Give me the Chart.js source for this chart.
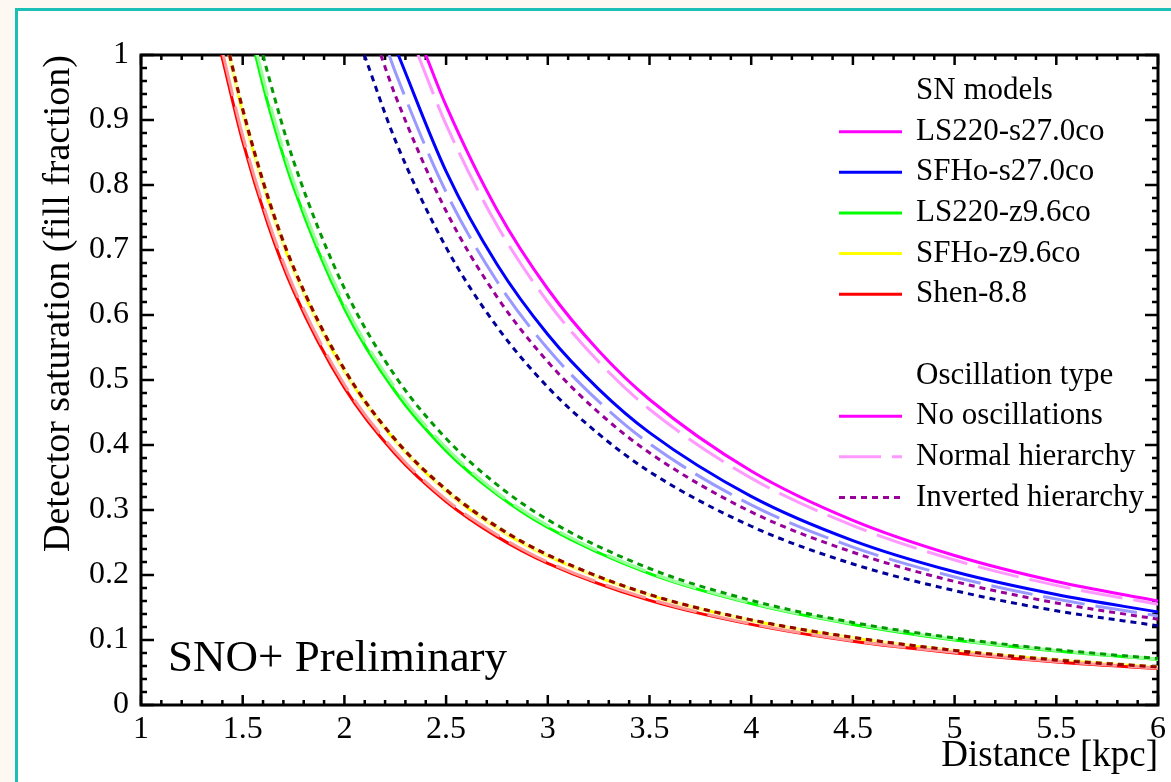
<!DOCTYPE html>
<html>
<head>
<meta charset="utf-8">
<script src="https://cdn.jsdelivr.net/npm/chart.js@4.4.0/dist/chart.umd.min.js"></script>
<style>
body{margin:0;background:#fdf8f1;}
#caja{width:1171px;height:782px;}
</style>
</head>
<body>
<div id="caja"><canvas id="grafico" width="1171" height="782"></canvas></div>
<script>
// ejes
const xTicks=[1,1.5,2,2.5,3,3.5,4,4.5,5,5.5,6]
const xTickLabels=["1","1.5","2","2.5","3","3.5","4","4.5","5","5.5","6"]
const yTicks=[0,0.1,0.2,0.3,0.4,0.5,0.6,0.7,0.8,0.9,1]
const yTickLabels=["0","0.1","0.2","0.3","0.4","0.5","0.6","0.7","0.8","0.9","1"]

const modelos=["LS220-s27.0co","SFHo-s27.0co","LS220-z9.6co","SFHo-z9.6co","Shen-8.8"]
const oscilaciones=["No oscillations","Normal hierarchy","Inverted hierarchy"]

// colores: sin oscilacion, jerarquia normal, jerarquia invertida
const coloresLS220s27=["#ff00ff","#ff99ff","#990099"]
const coloresSFHos27=["#0000ff","#9999ff","#000099"]
const coloresLS220z96=["#00ff00","#99ff99","#009900"]
const coloresSFHoz96=["#ffff00","#ffff99","#999900"]
const coloresShen=["#ff0000","#ff9999","#990000"]

// [distancia kpc, saturacion]
const ls220s27_sinOsc=[[2.40,1],[2.5,0.922],[2.75,0.762],[3,0.640],[3.25,0.545],[3.5,0.470],[4,0.360],[4.5,0.284],[5,0.230],[5.5,0.190],[6,0.160]]
const ls220s27_nh=[[2.362,1],[2.5,0.893],[2.75,0.738],[3,0.620],[3.25,0.528],[3.5,0.455],[4,0.349],[4.5,0.276],[5,0.223],[5.5,0.184],[6,0.155]]
const ls220s27_ih=[[2.179,1],[2.25,0.938],[2.5,0.760],[2.75,0.628],[3,0.528],[3.25,0.450],[3.5,0.388],[4,0.297],[4.5,0.235],[5,0.190],[5.5,0.157],[6,0.132]]

const sfhos27_sinOsc=[[2.265,1],[2.5,0.821],[2.75,0.678],[3,0.570],[3.25,0.486],[3.5,0.419],[4,0.321],[4.5,0.253],[5,0.205],[5.5,0.170],[6,0.143]]
const sfhos27_nh=[[2.220,1],[2.25,0.974],[2.5,0.789],[2.75,0.652],[3,0.548],[3.25,0.467],[3.5,0.402],[4,0.308],[4.5,0.243],[5,0.197],[5.5,0.163],[6,0.137]]
const sfhos27_ih=[[2.098,1],[2.25,0.869],[2.5,0.704],[2.75,0.582],[3,0.489],[3.25,0.417],[3.5,0.359],[4,0.275],[4.5,0.217],[5,0.176],[5.5,0.145],[6,0.122]]

const ls220z96_sinOsc=[[1.563,1],[1.625,0.924],[1.75,0.797],[2,0.610],[2.25,0.482],[2.5,0.391],[2.75,0.324],[3,0.273],[3.5,0.202],[4,0.156],[4.5,0.124],[5,0.100],[5.5,0.083],[6,0.070]]
const ls220z96_nh=[[1.572,1],[1.625,0.935],[1.75,0.806],[2,0.617],[2.25,0.488],[2.5,0.396],[2.75,0.327],[3,0.276],[3.5,0.204],[4,0.157],[4.5,0.125],[5,0.101],[5.5,0.084],[6,0.0705]]
const ls220z96_ih=[[1.600,1],[1.625,0.970],[1.75,0.837],[2,0.641],[2.25,0.506],[2.5,0.410],[2.75,0.339],[3,0.285],[3.5,0.210],[4,0.161],[4.5,0.127],[5,0.103],[5.5,0.085],[6,0.0715]]

const sfhoz96_sinOsc=[[1.432,1],[1.5,0.911],[1.625,0.776],[1.75,0.669],[2,0.513],[2.25,0.406],[2.5,0.329],[2.75,0.272],[3,0.229],[3.5,0.169],[4,0.130],[4.5,0.103],[5,0.083],[5.5,0.069],[6,0.058]]
const sfhoz96_nh=[[1.434,1],[1.5,0.914],[1.625,0.778],[1.75,0.671],[2,0.515],[2.25,0.407],[2.5,0.330],[2.75,0.273],[3,0.230],[3.5,0.169],[4,0.130],[4.5,0.103],[5,0.084],[5.5,0.069],[6,0.058]]
const sfhoz96_ih=[[1.437,1],[1.5,0.918],[1.625,0.782],[1.75,0.674],[2,0.517],[2.25,0.409],[2.5,0.332],[2.75,0.275],[3,0.231],[3.5,0.170],[4,0.131],[4.5,0.104],[5,0.084],[5.5,0.070],[6,0.0585]]

const shen88_sinOsc=[[1.396,1],[1.5,0.867],[1.625,0.739],[1.75,0.637],[2,0.488],[2.25,0.386],[2.5,0.313],[2.75,0.259],[3,0.218],[3.5,0.161],[4,0.124],[4.5,0.098],[5,0.080],[5.5,0.066],[6,0.056]]
const shen88_nh=[[1.404,1],[1.5,0.876],[1.625,0.746],[1.75,0.643],[2,0.493],[2.25,0.390],[2.5,0.316],[2.75,0.262],[3,0.220],[3.5,0.163],[4,0.125],[4.5,0.099],[5,0.081],[5.5,0.067],[6,0.0565]]
const shen88_ih=[[1.435,1],[1.5,0.916],[1.625,0.780],[1.75,0.673],[2,0.516],[2.25,0.408],[2.5,0.331],[2.75,0.274],[3,0.231],[3.5,0.170],[4,0.131],[4.5,0.104],[5,0.084],[5.5,0.069],[6,0.0585]]

const curvas=[
    [ls220s27_sinOsc,ls220s27_nh,ls220s27_ih],
    [sfhos27_sinOsc,sfhos27_nh,sfhos27_ih],
    [ls220z96_sinOsc,ls220z96_nh,ls220z96_ih],
    [sfhoz96_sinOsc,sfhoz96_nh,sfhoz96_ih],
    [shen88_sinOsc,shen88_nh,shen88_ih]
]
const colores=[coloresLS220s27,coloresSFHos27,coloresLS220z96,coloresSFHoz96,coloresShen]

// tipo de linea para cada oscilacion
const trazos=[[],[42,11],[6,5]]

const serif="'Liberation Serif','DejaVu Serif',serif"

function conjuntos(){
    let arr=[]
    for(let m=0;m<curvas.length;m++){
        for(let o=0;o<3;o++){
            arr.push({
                label: modelos[m]+" "+oscilaciones[o],
                data: curvas[m][o].map(p=>({x:p[0],y:p[1]})),
                borderColor: colores[m][o],
                backgroundColor: colores[m][o],
                borderWidth:3,
                borderDash: trazos[o],
                pointRadius:0,
                showLine:true,
                fill:false,
                cubicInterpolationMode:'monotone'
            })
        }
    }
    // chart.js pinta el primero encima
    return arr.reverse()
}

// fondo, marco y ticks hacia dentro
const marco={
    id:'marco',
    beforeDraw(chart){
        const ctx=chart.ctx
        ctx.save()
        ctx.fillStyle='#fdf8f1'
        ctx.fillRect(0,0,chart.width,chart.height)
        ctx.fillStyle='#ffffff'
        ctx.fillRect(18,11,chart.width,chart.height)
        ctx.strokeStyle='#1cbfb6'
        ctx.lineWidth=3
        ctx.strokeRect(16.5,9.5,chart.width+20,chart.height+20)
        ctx.restore()
    },
    beforeDatasetsDraw(chart){
        const ctx=chart.ctx
        const a=chart.chartArea
        const sx=chart.scales.x
        const sy=chart.scales.y
        ctx.save()
        ctx.strokeStyle='#000'
        ctx.lineWidth=2.5
        ctx.beginPath()
        // x: mayores cada 0.5, menores cada 0.1
        for(let i=0;i<=50;i++){
            const v=1+i*0.1
            const px=sx.getPixelForValue(v)
            const l=(i%5==0)?10:5
            ctx.moveTo(px,a.bottom);ctx.lineTo(px,a.bottom-l)
            ctx.moveTo(px,a.top);ctx.lineTo(px,a.top+l)
        }
        // y: mayores cada 0.1, menores cada 0.02
        for(let i=0;i<=50;i++){
            const v=i*0.02
            const py=sy.getPixelForValue(v)
            const l=(i%5==0)?13:6
            ctx.moveTo(a.left,py);ctx.lineTo(a.left+l,py)
            ctx.moveTo(a.right,py);ctx.lineTo(a.right-l,py)
        }
        ctx.stroke()
        ctx.lineWidth=3
        ctx.strokeRect(a.left,a.top,a.right-a.left,a.bottom-a.top)
        ctx.restore()
    },
    afterDatasetsDraw(chart){
        const ctx=chart.ctx
        ctx.save()
        ctx.fillStyle='#000'
        ctx.font="45px "+serif
        ctx.textBaseline='alphabetic'
        ctx.fillText('SNO+ Preliminary',168,671)

        // leyenda
        const filas=[
            {t:'SN models'},
            {t:modelos[0],c:coloresLS220s27[0],d:[]},
            {t:modelos[1],c:coloresSFHos27[0],d:[]},
            {t:modelos[2],c:coloresLS220z96[0],d:[]},
            {t:modelos[3],c:coloresSFHoz96[0],d:[]},
            {t:modelos[4],c:coloresShen[0],d:[]},
            {t:''},
            {t:'Oscillation type'},
            {t:oscilaciones[0],c:coloresLS220s27[0],d:trazos[0]},
            {t:oscilaciones[1],c:coloresLS220s27[1],d:trazos[1]},
            {t:oscilaciones[2],c:coloresLS220s27[2],d:trazos[2]}
        ]
        ctx.font="31px "+serif
        ctx.textBaseline='middle'
        filas.forEach((f,i)=>{
            const y=91+i*40.65
            if(f.c){
                ctx.strokeStyle=f.c
                ctx.lineWidth=3
                ctx.setLineDash(f.d)
                ctx.beginPath()
                ctx.moveTo(839,y);ctx.lineTo(902,y)
                ctx.stroke()
                ctx.setLineDash([])
            }
            ctx.fillText(f.t,916,y)
        })
        ctx.restore()
    }
}

const ctx=document.getElementById('grafico')

const mychart=new Chart(ctx,{
    type:'scatter',
    data:{datasets:conjuntos()},
    plugins:[marco],
    options:{
        responsive:false,
        animation:false,
        layout:{padding:{left:20,top:55,right:9,bottom:0}},
        plugins:{legend:{display:false},tooltip:{enabled:false}},
        scales:{
            x:{
                type:'linear',min:1,max:6,
                afterBuildTicks:s=>{s.ticks=xTicks.map(v=>({value:v}))},
                afterFit:s=>{s.height=77},
                grid:{display:false,drawTicks:false},
                border:{display:false},
                ticks:{padding:5,color:'#000',autoSkip:false,maxRotation:0,font:{family:serif,size:32},
                    callback:(v,i)=>xTickLabels[i]},
                title:{display:true,text:'Distance [kpc]',align:'end',color:'#000',
                    font:{family:serif,size:37},padding:{top:0,bottom:4}}
            },
            y:{
                type:'linear',min:0,max:1,
                afterBuildTicks:s=>{s.ticks=yTicks.map(v=>({value:v}))},
                afterFit:s=>{s.width=121},
                grid:{display:false,drawTicks:false},
                border:{display:false},
                ticks:{padding:12,color:'#000',autoSkip:false,font:{family:serif,size:32},
                    callback:(v,i)=>yTickLabels[i]},
                title:{display:true,text:'Detector saturation (fill fraction)',align:'end',color:'#000',
                    font:{family:serif,size:38},padding:{top:16,bottom:0}}
            }
        }
    }
})
</script>
</body>
</html>
